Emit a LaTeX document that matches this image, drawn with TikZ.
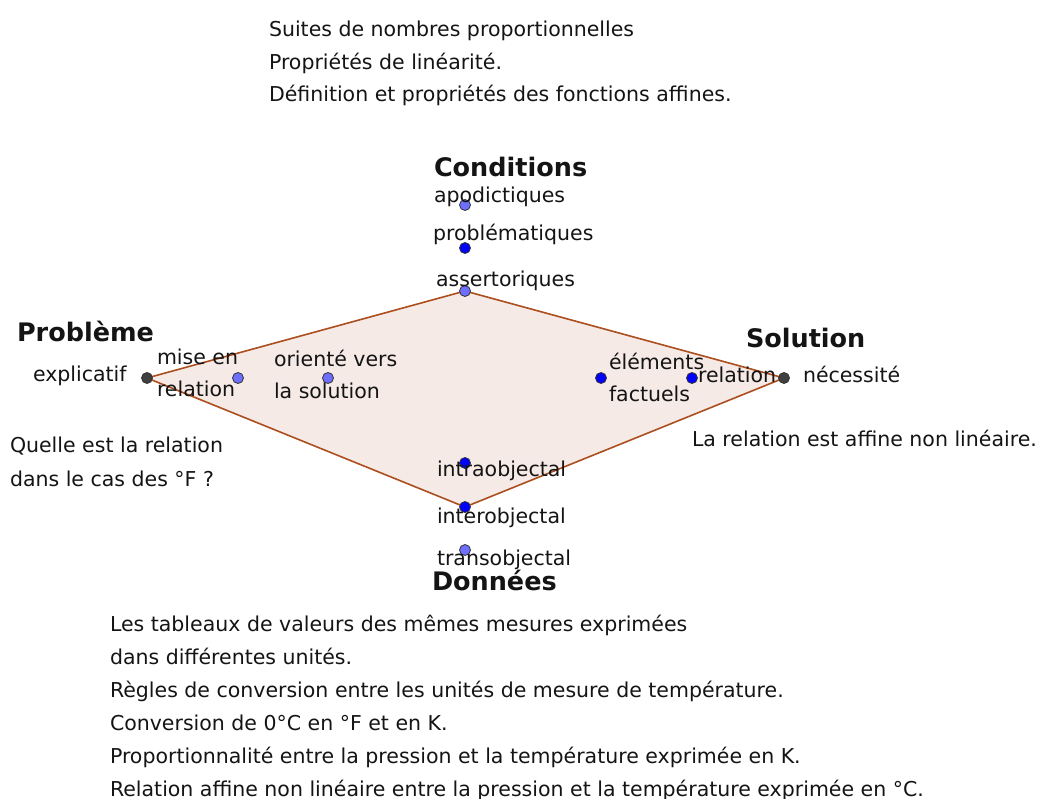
\documentclass[tikz,border=0pt]{standalone}
\usepackage{fontspec}
\setmainfont{DejaVu Sans}
\usepackage{tikz}
\usetikzlibrary{backgrounds}
\definecolor{ggPoly}{RGB}{172,78,30}
\definecolor{ggFill}{RGB}{245,234,230}
\definecolor{ggFree}{RGB}{0,0,255}
\definecolor{ggPath}{RGB}{110,110,255}
\definecolor{ggDep}{RGB}{64,64,64}
\definecolor{ggText}{RGB}{20,20,20}
\tikzset{
  ggpt/.style={circle, draw=black!80, line width=0.8pt, inner sep=0pt, minimum size=11pt},
  freept/.style={ggpt, fill=ggFree},
  pathpt/.style={ggpt, fill=ggPath},
  deppt/.style={ggpt, fill=ggDep},
  lbl/.style={anchor=base west, inner sep=0pt, outer sep=0pt, align=left,
    text=ggText, font=\fontsize{20.5}{32.5}\selectfont},
  ttl/.style={lbl, font=\fontsize{25.5}{30}\selectfont\bfseries},
  poly/.style={draw=ggPoly, fill=ggFill, line width=1.6pt, line join=round}
}

\begin{document}
\begin{tikzpicture}[x=1pt, y=-1pt]
  \useasboundingbox (0,0) rectangle (1042,799);
  % points of the quadrilateral
  \node[deppt] (prob) at (147,378) {};
  \node[pathpt] (mise) at (238,378) {};
  \node[pathpt] (orie) at (328,378) {};
  \node[freept] (elem) at (601,378) {};
  \node[freept] (rela) at (692,378) {};
  \node[deppt] (solu) at (784,378) {};
  \node[pathpt] (apod) at (465,205) {};
  \node[freept] (prbl) at (465,248) {};
  \node[pathpt] (asse) at (465,291) {};
  \node[freept] (intr) at (465,463) {};
  \node[freept] (inte) at (465,507) {};
  \node[pathpt] (tran) at (465,550) {};
  \begin{scope}[on background layer]
    \draw[poly] (prob.center) -- (asse.center) -- (solu.center) -- (inte.center) -- cycle;
  \end{scope}
  % titles
  \node[ttl] (tcond) at (434,177) {Conditions};
  \node[ttl] (tprob) at (17,342) {Problème};
  \node[ttl] (tsolu) at (746,348) {Solution};
  \node[ttl] (tdonn) at (432,590) {Données};
  % labels of the points (base = last line)
  \node[lbl] (lapod) at (434,203) {apodictiques};
  \node[lbl] (lprbl) at (433,241) {problématiques};
  \node[lbl] (lasse) at (436,287) {assertoriques};
  \node[lbl] (lexpl) at (33,382) {explicatif};
  \node[lbl, font=\fontsize{20.5}{32}\selectfont] (lmise) at (157,397) {mise en\\relation};
  \node[lbl, font=\fontsize{20.5}{32}\selectfont] (lorie) at (274,399) {orienté vers\\la solution};
  \node[lbl, font=\fontsize{20.5}{32}\selectfont] (lelem) at (609,402) {éléments\\factuels};
  \node[lbl] (lrela) at (698,383) {relation};
  \node[lbl] (lnece) at (803,383) {nécessité};
  \node[lbl] (lintr) at (437,477) {intraobjectal};
  \node[lbl] (linte) at (437,523) {interobjectal};
  \node[lbl] (ltran) at (437,565) {transobjectal};
  % notes
  \node[lbl] (ncond) at (269,102) {Suites de nombres proportionnelles\\Propriétés de linéarité.\\Définition et propriétés des fonctions affines.};
  \node[lbl, font=\fontsize{20.5}{34}\selectfont] (nprob) at (10,486) {Quelle est la relation\\dans le cas des °F ?};
  \node[lbl] (nsolu) at (692,447) {La relation est affine non linéaire.};
  \node[lbl, font=\fontsize{20.5}{33}\selectfont] (ndonn) at (110,796) {Les tableaux de valeurs des mêmes mesures exprimées\\dans différentes unités.\\Règles de conversion entre les unités de mesure de température.\\Conversion de 0°C en °F et en K.\\Proportionnalité entre la pression et la température exprimée en K.\\Relation affine non linéaire entre la pression et la température exprimée en °C.};
\end{tikzpicture}
\end{document}
